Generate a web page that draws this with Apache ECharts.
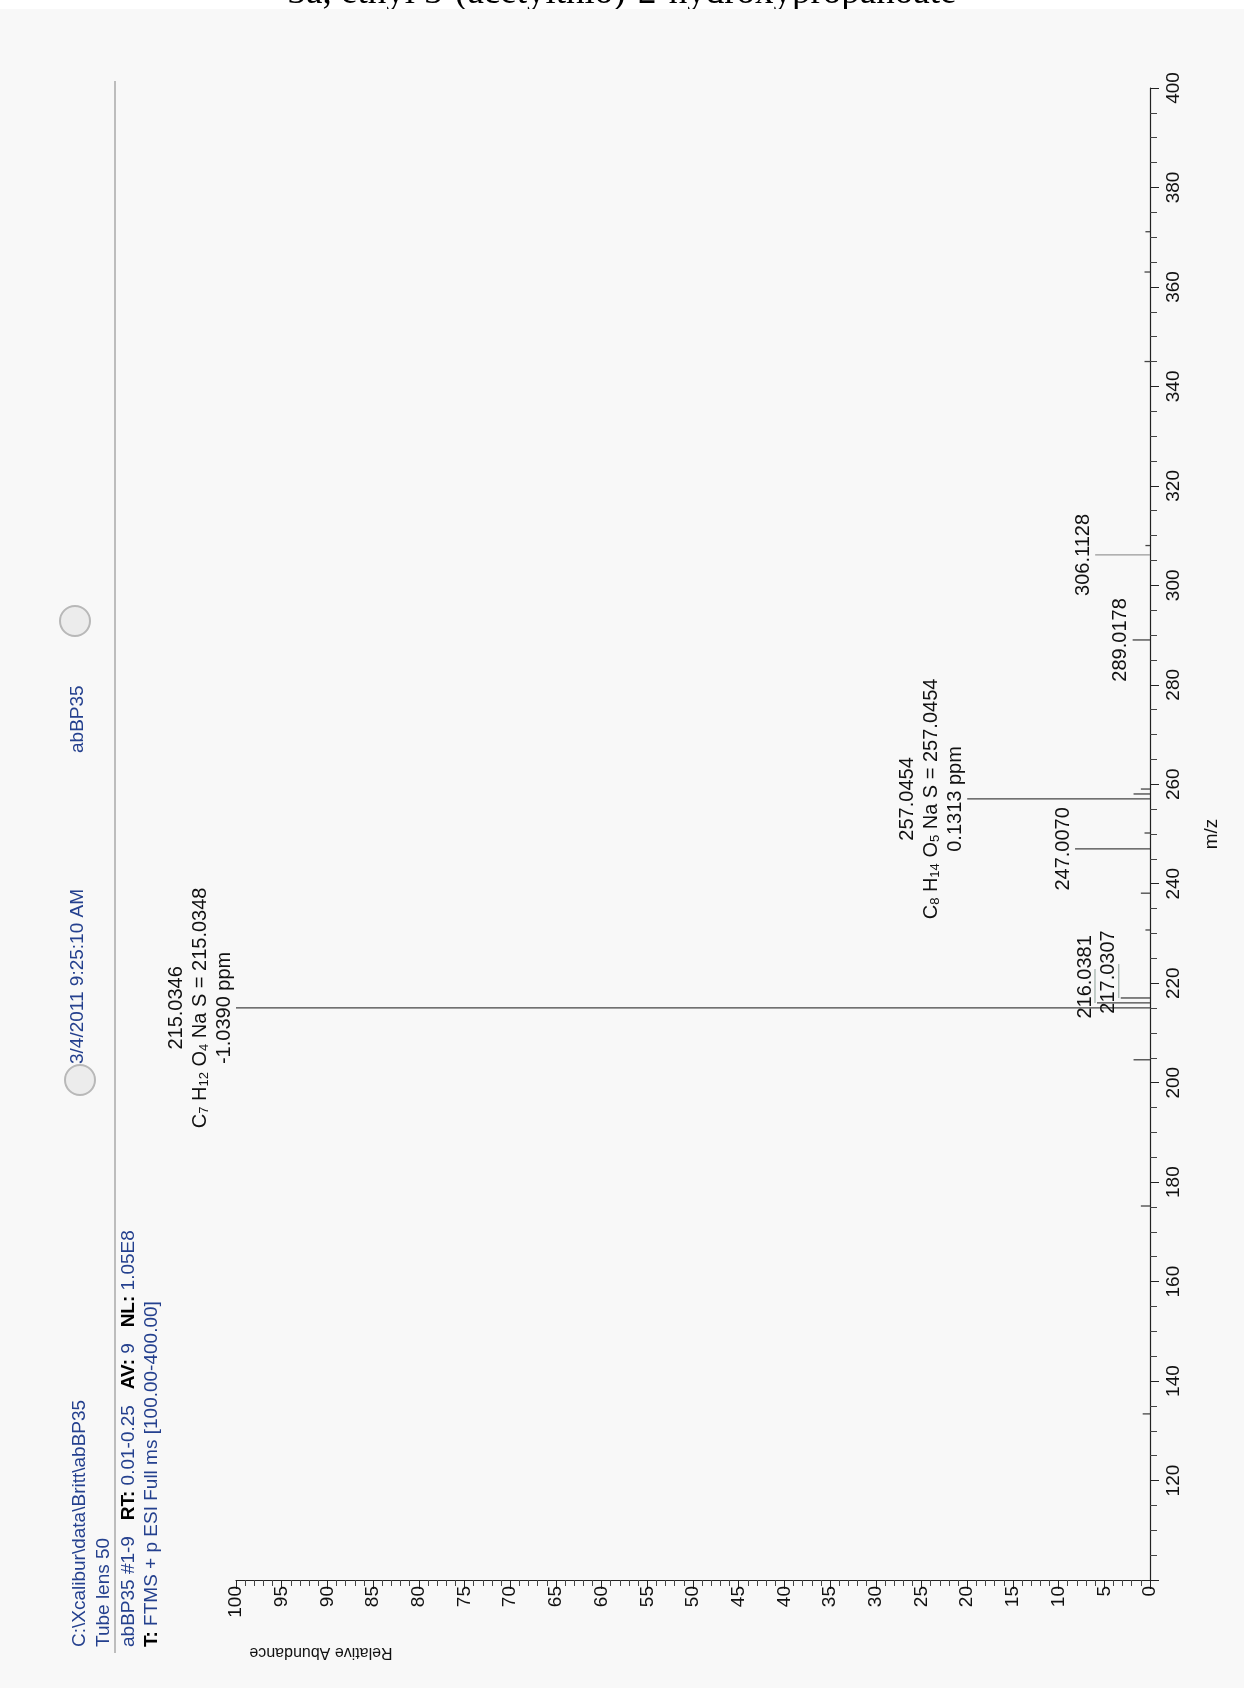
<!DOCTYPE html>
<html>
<head>
<meta charset="utf-8">
<script src="https://cdn.jsdelivr.net/npm/echarts@6/dist/echarts.min.js"></script>
<style>
  html, body { margin: 0; padding: 0; background: #f8f8f8; }
  #chart { width: 1244px; height: 1688px; }
</style>
</head>
<body>
<div id="chart"></div>
<script>
// stick spectrum: m/z and relative abundance (%)
const peakMz = [133.4, 175.2, 204.6, 215.0346, 216.0381, 217.0307, 230.7, 238.1, 247.0070, 250.2,
  257.0454, 258.05, 259.04, 289.0178, 306.1128, 308.0, 345.0, 363.0, 371.1];
const peakAbund = [0.8, 1.0, 1.8, 100, 5.8, 3.2, 0.5, 1.0, 8.2, 0.6,
  20.0, 1.8, 1.0, 1.9, 6.0, 0.5, 0.6, 0.6, 0.5];

// annotated peaks
const labelMz = ["215.0346", "216.0381", "217.0307", "247.0070", "257.0454", "289.0178", "306.1128"];
const labelFormula = [
  "{t|C}{s|7}{t| H}{s|12}{t| O}{s|4}{t| Na S = 215.0348}", "", "", "",
  "{t|C}{s|8}{t| H}{s|14}{t| O}{s|5}{t| Na S = 257.0454}", "", ""
];
const labelPpm = ["-1.0390 ppm", "", "", "", "0.1313 ppm", "", ""];

// axis ranges
const mzRange = [100, 400];
const abundRange = [0, 100];

const FONT = '"Liberation Sans", Arial, sans-serif';
const BLUE = "#24408e";

const chart = echarts.init(document.getElementById("chart"));

// labels pushed up next to the big peak get a leader line
const nudged = { "216.0381": 26, "217.0307": 26 };

function renderPeak(params, api) {
  const ab = api.value(0);
  const mz = api.value(1);
  const base = api.coord([0, mz]);
  const tip = api.coord([ab, mz]);
  const children = [{
    type: "line",
    shape: { x1: base[0], y1: base[1], x2: tip[0], y2: tip[1] },
    style: { stroke: mz > 300 && mz < 307 ? "#9a9a9a" : "#444", lineWidth: 1.3 }
  }];
  const li = labelMz.findIndex(s => Math.abs(parseFloat(s) - mz) < 1e-6);
  if (li >= 0) {
    const shift = nudged[labelMz[li]] || 0;
    const cy = tip[1] - shift;
    if (shift) {
      children.push({
        type: "line",
        shape: { x1: tip[0] - 2, y1: tip[1], x2: tip[0] - 2, y2: cy - 8 },
        style: { stroke: "#9fb0a8", lineWidth: 1.2 }
      });
    }
    const lines = [{ rich: false, text: labelMz[li] }];
    if (labelFormula[li]) lines.push({ rich: true, text: labelFormula[li] });
    if (labelPpm[li]) lines.push({ rich: false, text: labelPpm[li] });
    const n = lines.length;
    lines.forEach((ln, k) => {
      const off = 12 + (n - 1 - k) * 24;
      const style = {
        text: ln.text, fill: "#111", align: "center", verticalAlign: "middle",
        font: "20px " + FONT
      };
      if (ln.rich) {
        style.rich = {
          t: { fontSize: 20, fontFamily: FONT, fill: "#111", lineHeight: 22, verticalAlign: "middle" },
          s: { fontSize: 13, fontFamily: FONT, fill: "#111", lineHeight: 22, verticalAlign: "bottom" }
        };
      }
      children.push({ type: "text", x: tip[0] - off, y: cy, rotation: Math.PI / 2, style: style });
    });
  }
  return { type: "group", children: children };
}

const headerY = 1647;
const headRich = {
  v: { fontSize: 19, fontFamily: FONT, fill: BLUE },
  k: { fontSize: 19, fontFamily: FONT, fill: "#000", fontWeight: "bold" }
};

const option = {
  backgroundColor: "#f8f8f8",
  animation: false,
  grid: { left: 236, right: 94, top: 88, bottom: 108 },
  xAxis: {
    type: "value",
    min: abundRange[0], max: abundRange[1], interval: 5,
    inverse: true, position: "bottom",
    axisLine: { show: true, lineStyle: { color: "#222", width: 1.2 } },
    axisTick: { show: true, inside: false, length: 9, lineStyle: { color: "#222" } },
    minorTick: { show: true, splitNumber: 5, length: 6, lineStyle: { color: "#444" } },
    axisLabel: { rotate: 90, margin: 6, fontSize: 19, fontFamily: FONT, color: "#111" },
    splitLine: { show: false }
  },
  yAxis: {
    type: "value",
    min: mzRange[0], max: mzRange[1], interval: 20,
    position: "right",
    name: "m/z", nameLocation: "middle", nameGap: 52,
    nameTextStyle: { fontSize: 19, fontFamily: FONT, color: "#111" },
    axisLine: { show: true, lineStyle: { color: "#222", width: 1.2 } },
    axisTick: { show: true, inside: false, length: 9, lineStyle: { color: "#222" } },
    minorTick: { show: true, splitNumber: 4, length: 7, lineStyle: { color: "#444" } },
    axisLabel: { rotate: 90, margin: 14, fontSize: 19, fontFamily: FONT, color: "#111", showMinLabel: false },
    splitLine: { show: false }
  },
  series: [{
    type: "custom",
    renderItem: renderPeak,
    clip: false,
    encode: { x: 0, y: 1 },
    data: peakMz.map((m, i) => [peakAbund[i], m])
  }],
  graphic: [
    { type: "rect", shape: { x: 0, y: 0, width: 1244, height: 10 }, style: { fill: "#fff" }, silent: true },
    {
      type: "text", x: 622, y: -7,
      style: { text: "3a, ethyl 3-(acetylthio)-2-hydroxypropanoate", font: '37px "Liberation Serif", serif',
        fill: "#000", align: "center", verticalAlign: "middle" }
    },
    { type: "rect", shape: { x: 0, y: 9, width: 1244, height: 12 }, style: { fill: "#f8f8f8" }, silent: true },
    { type: "line", shape: { x1: 115, y1: 81, x2: 115, y2: 1653 }, style: { stroke: "#aaa", lineWidth: 1.5 } },
    {
      type: "text", x: 80, y: headerY, rotation: Math.PI / 2,
      style: { text: "C:\\Xcalibur\\data\\Britt\\abBP35", font: "19px " + FONT, fill: BLUE, align: "left", verticalAlign: "middle" }
    },
    {
      type: "text", x: 104, y: headerY, rotation: Math.PI / 2,
      style: { text: "Tube lens 50", font: "19px " + FONT, fill: BLUE, align: "left", verticalAlign: "middle" }
    },
    {
      type: "text", x: 129, y: headerY, rotation: Math.PI / 2,
      style: {
        text: "{v|abBP35 #1-9   }{k|RT:}{v| 0.01-0.25   }{k|AV:}{v| 9   }{k|NL:}{v| 1.05E8}",
        align: "left", verticalAlign: "middle", rich: headRich
      }
    },
    {
      type: "text", x: 152, y: headerY, rotation: Math.PI / 2,
      style: {
        text: "{k|T:}{v| FTMS + p ESI Full ms [100.00-400.00]}",
        align: "left", verticalAlign: "middle", rich: headRich
      }
    },
    { type: "circle", shape: { cx: 80, cy: 1080, r: 15 }, style: { fill: "#ececec", stroke: "#b8b8b8", lineWidth: 2 } },
    {
      type: "text", x: 78, y: 1064, rotation: Math.PI / 2,
      style: { text: "3/4/2011 9:25:10 AM", font: "19px " + FONT, fill: BLUE, align: "left", verticalAlign: "middle" }
    },
    { type: "circle", shape: { cx: 75, cy: 621, r: 15 }, style: { fill: "#ececec", stroke: "#b8b8b8", lineWidth: 2 } },
    {
      type: "text", x: 78, y: 753, rotation: Math.PI / 2,
      style: { text: "abBP35", font: "19px " + FONT, fill: BLUE, align: "left", verticalAlign: "middle" }
    },
    {
      type: "text", x: 321, y: 1652, rotation: Math.PI,
      style: { text: "Relative Abundance", font: "16px " + FONT, fill: "#111", align: "center", verticalAlign: "middle" }
    }
  ]
};

chart.setOption(option);
</script>
</body>
</html>
